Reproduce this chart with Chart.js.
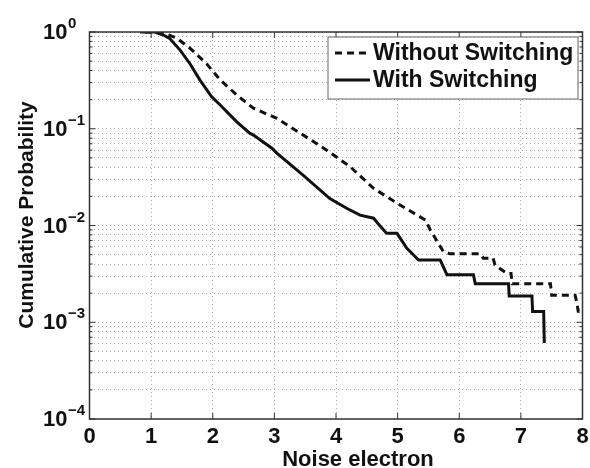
<!DOCTYPE html>
<html>
<head>
<meta charset="utf-8">
<script src="https://cdn.jsdelivr.net/npm/chart.js@4.4.1/dist/chart.umd.min.js"></script>
<style>
  html, body { margin: 0; padding: 0; background: #fff; }
  #wrap { width: 590px; height: 468px; position: relative; }
</style>
</head>
<body>
<div id="wrap"><canvas id="chart"></canvas></div>
<script>
// values
const withoutX = [0.9, 1.19, 1.42, 1.63, 1.90, 2.12, 2.39, 2.66, 3.04, 3.42, 3.85, 4.23, 4.61, 4.99, 5.45, 5.53, 5.74, 5.85, 6.34, 6.39, 6.55, 6.58, 6.77, 6.84, 6.86, 7.48, 7.50, 7.88, 7.91, 7.93, 8.0];
const withoutY = [1.0, 0.99, 0.86, 0.68, 0.47, 0.32, 0.223, 0.163, 0.128, 0.09, 0.06, 0.0405, 0.0242, 0.017, 0.0114, 0.009, 0.0054, 0.0051, 0.0051, 0.0046, 0.0046, 0.0039, 0.0032, 0.0032, 0.0025, 0.0025, 0.0019, 0.0019, 0.00158, 0.0013, 0.0013];

const withX = [0.82, 1.06, 1.2, 1.30, 1.47, 1.63, 1.79, 1.98, 2.12, 2.39, 2.60, 2.66, 2.96, 3.04, 3.47, 3.90, 4.18, 4.39, 4.61, 4.72, 4.82, 4.99, 5.15, 5.34, 5.69, 5.80, 6.23, 6.26, 6.80, 6.81, 7.18, 7.19, 7.37, 7.38];
const withY = [1.0, 1.0, 0.93, 0.86, 0.65, 0.47, 0.32, 0.215, 0.176, 0.118, 0.09, 0.086, 0.063, 0.056, 0.033, 0.019, 0.015, 0.0128, 0.0119, 0.0098, 0.0083, 0.0083, 0.0058, 0.0044, 0.0044, 0.0031, 0.0031, 0.0025, 0.0025, 0.00187, 0.00187, 0.00129, 0.00129, 0.00061];

const xTicks = [0, 1, 2, 3, 4, 5, 6, 7, 8];
const yDecades = [1e-4, 1e-3, 1e-2, 1e-1, 1];
const yExponents = ['\u22124', '\u22123', '\u22122', '\u22121', '0'];
const seriesLabels = ['Without Switching', 'With Switching'];

// minor log grid 1..9 x 10^k
const yGrid = [];
yDecades.forEach((d, i) => {
  if (i === yDecades.length - 1) { yGrid.push(d); return; }
  for (let m = 1; m <= 9; m++) yGrid.push(+(d * m).toPrecision(3));
});

const toPoints = (xs, ys) => xs.map((x, i) => ({ x: x, y: ys[i] }));

const FONT = '"Liberation Sans", Arial, Helvetica, sans-serif';

const matlabAxes = {
  id: 'matlabAxes',
  afterDraw(chart) {
    const ctx = chart.ctx;
    const xs = chart.scales.x, ys = chart.scales.y;
    const a = chart.chartArea;
    ctx.save();

    // box
    ctx.strokeStyle = '#333';
    ctx.lineWidth = 1.5;
    ctx.strokeRect(a.left, a.top, a.right - a.left, a.bottom - a.top);

    // inward ticks
    ctx.lineWidth = 1;
    ctx.beginPath();
    xTicks.forEach(v => {
      const px = xs.getPixelForValue(v);
      ctx.moveTo(px, a.bottom); ctx.lineTo(px, a.bottom - 6);
      ctx.moveTo(px, a.top); ctx.lineTo(px, a.top + 6);
    });
    yGrid.forEach(v => {
      const py = ys.getPixelForValue(v);
      const len = yDecades.includes(v) ? 6 : 3;
      ctx.moveTo(a.left, py); ctx.lineTo(a.left + len, py);
      ctx.moveTo(a.right, py); ctx.lineTo(a.right - len, py);
    });
    ctx.stroke();

    // tick labels
    ctx.fillStyle = '#111';
    ctx.font = 'bold 22px ' + FONT;
    ctx.textAlign = 'center';
    ctx.textBaseline = 'middle';
    xTicks.forEach(v => ctx.fillText(String(v), xs.getPixelForValue(v), 437));

    yDecades.forEach((v, i) => {
      const py = ys.getPixelForValue(v);
      ctx.font = 'bold 22px ' + FONT;
      ctx.textAlign = 'left';
      ctx.textBaseline = 'middle';
      ctx.fillText('10', 43, py + 1);
      ctx.font = 'bold 15px ' + FONT;
      ctx.textBaseline = 'alphabetic';
      ctx.fillText(yExponents[i], 68, py - 4);
    });

    // axis titles
    ctx.font = 'bold 22px ' + FONT;
    ctx.textAlign = 'center';
    ctx.textBaseline = 'alphabetic';
    ctx.fillText('Noise electron', 358, 466);

    ctx.save();
    ctx.translate(33, 215);
    ctx.rotate(-Math.PI / 2);
    ctx.font = 'bold 21px ' + FONT;
    ctx.fillText('Cumulative Probability', 0, 0);
    ctx.restore();

    // legend
    const lx = 328, ly = 37, lw = 250, lh = 62;
    ctx.fillStyle = '#fff';
    ctx.fillRect(lx, ly, lw, lh);
    ctx.strokeStyle = '#666';
    ctx.lineWidth = 1;
    ctx.strokeRect(lx, ly, lw, lh);

    chart.data.datasets.forEach((ds, i) => {
      const cy = 53 + i * 27;
      ctx.strokeStyle = ds.borderColor;
      ctx.lineWidth = ds.borderWidth;
      ctx.setLineDash(ds.borderDash || []);
      ctx.beginPath();
      ctx.moveTo(335, cy); ctx.lineTo(370, cy);
      ctx.stroke();
      ctx.setLineDash([]);
      ctx.fillStyle = '#111';
      ctx.font = 'bold 23px ' + FONT;
      ctx.textAlign = 'left';
      ctx.textBaseline = 'middle';
      ctx.fillText(ds.label, 373, cy + 1);
    });

    ctx.restore();
  }
};

const ctx = document.getElementById('chart').getContext('2d');
new Chart(ctx, {
  type: 'scatter',
  data: {
    datasets: [{
      label: seriesLabels[0],
      data: toPoints(withoutX, withoutY),
      showLine: true,
      borderColor: '#111',
      borderWidth: 3,
      borderDash: [7, 5],
      pointRadius: 0,
      fill: false
    }, {
      label: seriesLabels[1],
      data: toPoints(withX, withY),
      showLine: true,
      borderColor: '#111',
      borderWidth: 3,
      pointRadius: 0,
      fill: false
    }]
  },
  options: {
    responsive: true,
    maintainAspectRatio: false,
    animation: false,
    layout: { padding: { top: 32, right: 7.5, left: 0, bottom: 0 } },
    scales: {
      x: {
        type: 'linear',
        min: 0,
        max: 8,
        afterBuildTicks: s => { s.ticks = xTicks.map(v => ({ value: v })); },
        afterFit: s => { s.height = 49; },
        ticks: { display: false },
        grid: { color: '#adadad', lineWidth: 1, drawTicks: false },
        border: { display: false, dash: [1, 3] }
      },
      y: {
        type: 'logarithmic',
        min: 1e-4,
        max: 1,
        afterBuildTicks: s => { s.ticks = yGrid.map(v => ({ value: v })); },
        afterFit: s => { s.width = 89.5; },
        ticks: { display: false },
        grid: { color: '#adadad', lineWidth: 1, drawTicks: false },
        border: { display: false, dash: [1, 3] }
      }
    },
    plugins: {
      legend: { display: false },
      tooltip: { enabled: false }
    }
  },
  plugins: [matlabAxes]
});
</script>
</body>
</html>
